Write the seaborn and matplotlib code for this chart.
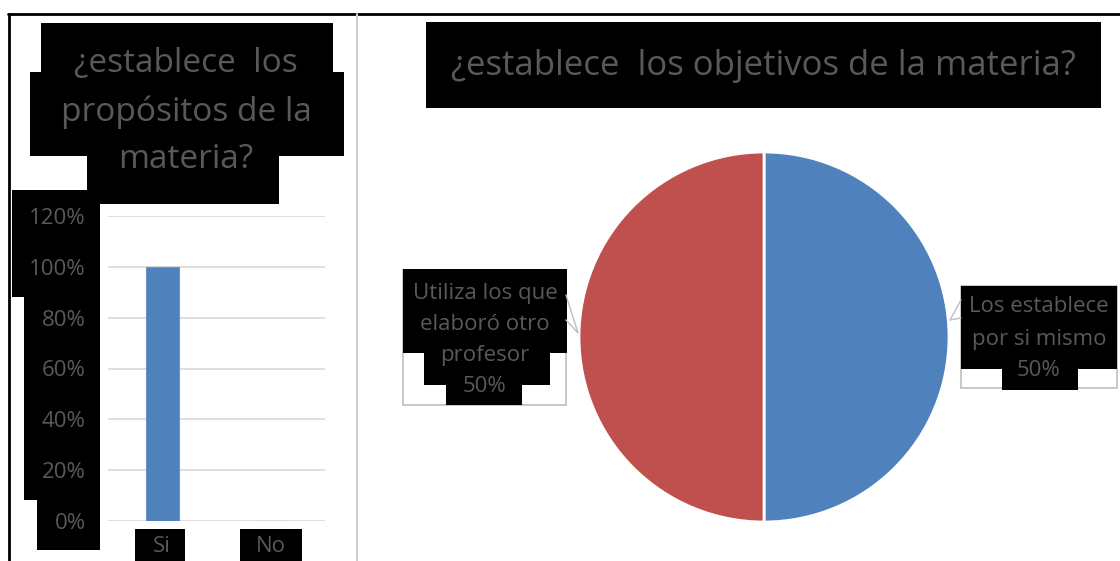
import matplotlib
matplotlib.use('Agg')
import matplotlib.pyplot as plt
import seaborn as sns
from matplotlib.patches import Rectangle
from matplotlib.lines import Line2D

# data
bar_categories = ['Si', 'No']
bar_values = [1.0, 0.0]
bar_ticks = [0, 0.2, 0.4, 0.6, 0.8, 1.0, 1.2]

pie_labels = ['Los establece\npor si mismo', 'Utiliza los que\nelaboró otro\nprofesor']
pie_values = [0.5, 0.5]
pie_colors = ['#4F81BD', '#C0504D']

left_title = ['¿establece  los', 'propósitos de la', 'materia?']
right_title = '¿establece  los objetivos de la materia?'

sns.set_style('white')
plt.rcParams['font.family'] = ['Open Sans', 'DejaVu Sans']

W, H = 1120, 561
TXT = '#595959'
fig = plt.figure(figsize=(W / 100, H / 100), dpi=100)


def fx(x):
    return x / W


def fy(y):
    return 1 - y / H


def black_box(x0, y0, x1, y1):
    fig.add_artist(Rectangle((fx(x0), fy(y1)), fx(x1) - fx(x0), fy(y0) - fy(y1),
                             transform=fig.transFigure, facecolor='black',
                             edgecolor='none', zorder=-1))


def frame_box(x0, y0, x1, y1):
    fig.add_artist(Rectangle((fx(x0), fy(y1)), fx(x1) - fx(x0), fy(y0) - fy(y1),
                             transform=fig.transFigure, facecolor='none',
                             edgecolor='#BFBFBF', lw=1.2, zorder=-2))


def line(xs, ys, color, lw):
    fig.add_artist(Line2D([fx(v) for v in xs], [fy(v) for v in ys],
                          transform=fig.transFigure, color=color, lw=lw))


# outer frame
line([8, 1120], [14, 14], 'black', 2)
line([9, 9], [14, 561], 'black', 2)
line([357, 357], [14, 561], '#D0D0D0', 1.5)

# ---- left bar chart ----
ax = fig.add_axes([fx(108), fy(521), fx(325) - fx(108), fy(216) - fy(521)])
ax.set_facecolor('none')
sns.barplot(x=bar_categories, y=bar_values, color='#4F81BD', width=0.3,
            saturation=1, edgecolor='#6A94C8', linewidth=0.8, ax=ax)
ax.set_ylim(0, 1.2)
ax.set_xlim(-0.5, 1.5)
ax.set_yticks(bar_ticks)
ax.set_yticklabels([f'{t:.0%}' for t in bar_ticks])
ax.yaxis.grid(True, color='#D9D9D9', lw=1.2)
ax.set_axisbelow(True)
for s in ax.spines.values():
    s.set_visible(False)
ax.tick_params(axis='y', length=0, pad=16, labelsize=16, labelcolor=TXT)
ax.tick_params(axis='x', length=0, pad=11, labelsize=16, labelcolor=TXT)

# black highlight boxes behind the left texts
black_box(41, 23, 333, 72)
black_box(30, 72, 344, 156)
black_box(87, 156, 279, 204)
black_box(12, 190, 100, 297)
black_box(24, 297, 100, 500)
black_box(37, 500, 100, 550)
black_box(135, 529, 185, 561)
black_box(240, 529, 302, 561)

for i, t in enumerate(left_title):
    fig.text(fx(186), fy(64 + 48 * i), t, ha='center', va='center',
             fontsize=24, color=TXT)

# ---- right pie chart ----
pax = fig.add_axes([fx(579), fy(522), fx(949) - fx(579), fy(152) - fy(522)])
pax.pie(pie_values, colors=pie_colors, startangle=90, counterclock=False,
        wedgeprops=dict(edgecolor='white', linewidth=2))
pax.set_xlim(-1, 1)
pax.set_ylim(-1, 1)
pax.set_aspect('equal')

black_box(426, 22, 1101, 108)
fig.text(fx(763), fy(66), right_title, ha='center', va='center',
         fontsize=25, color=TXT)

# data labels with callouts
label_right = f'{pie_labels[0]}\n{pie_values[0]:.0%}'.split('\n')
label_left = f'{pie_labels[1]}\n{pie_values[1]:.0%}'.split('\n')

frame_box(961, 286, 1117, 388)
black_box(961, 286, 1117, 369)
black_box(1002, 369, 1078, 390)
for i, t in enumerate(label_right):
    fig.text(fx(1039), fy(307 + 32 * i), t, ha='center', va='center',
             fontsize=16, color=TXT)
line([961, 950, 961], [300, 320, 318], '#BFBFBF', 1)

frame_box(403, 270, 566, 405)
black_box(403, 269, 567, 353)
black_box(424, 353, 550, 385)
black_box(446, 385, 522, 405)
for i, t in enumerate(label_left):
    fig.text(fx(485), fy(293 + 31 * i), t, ha='center', va='center',
             fontsize=16, color=TXT)
line([566, 578, 566], [295, 333, 320], '#BFBFBF', 1)

fig.savefig('out.png', dpi=100, facecolor='white')
